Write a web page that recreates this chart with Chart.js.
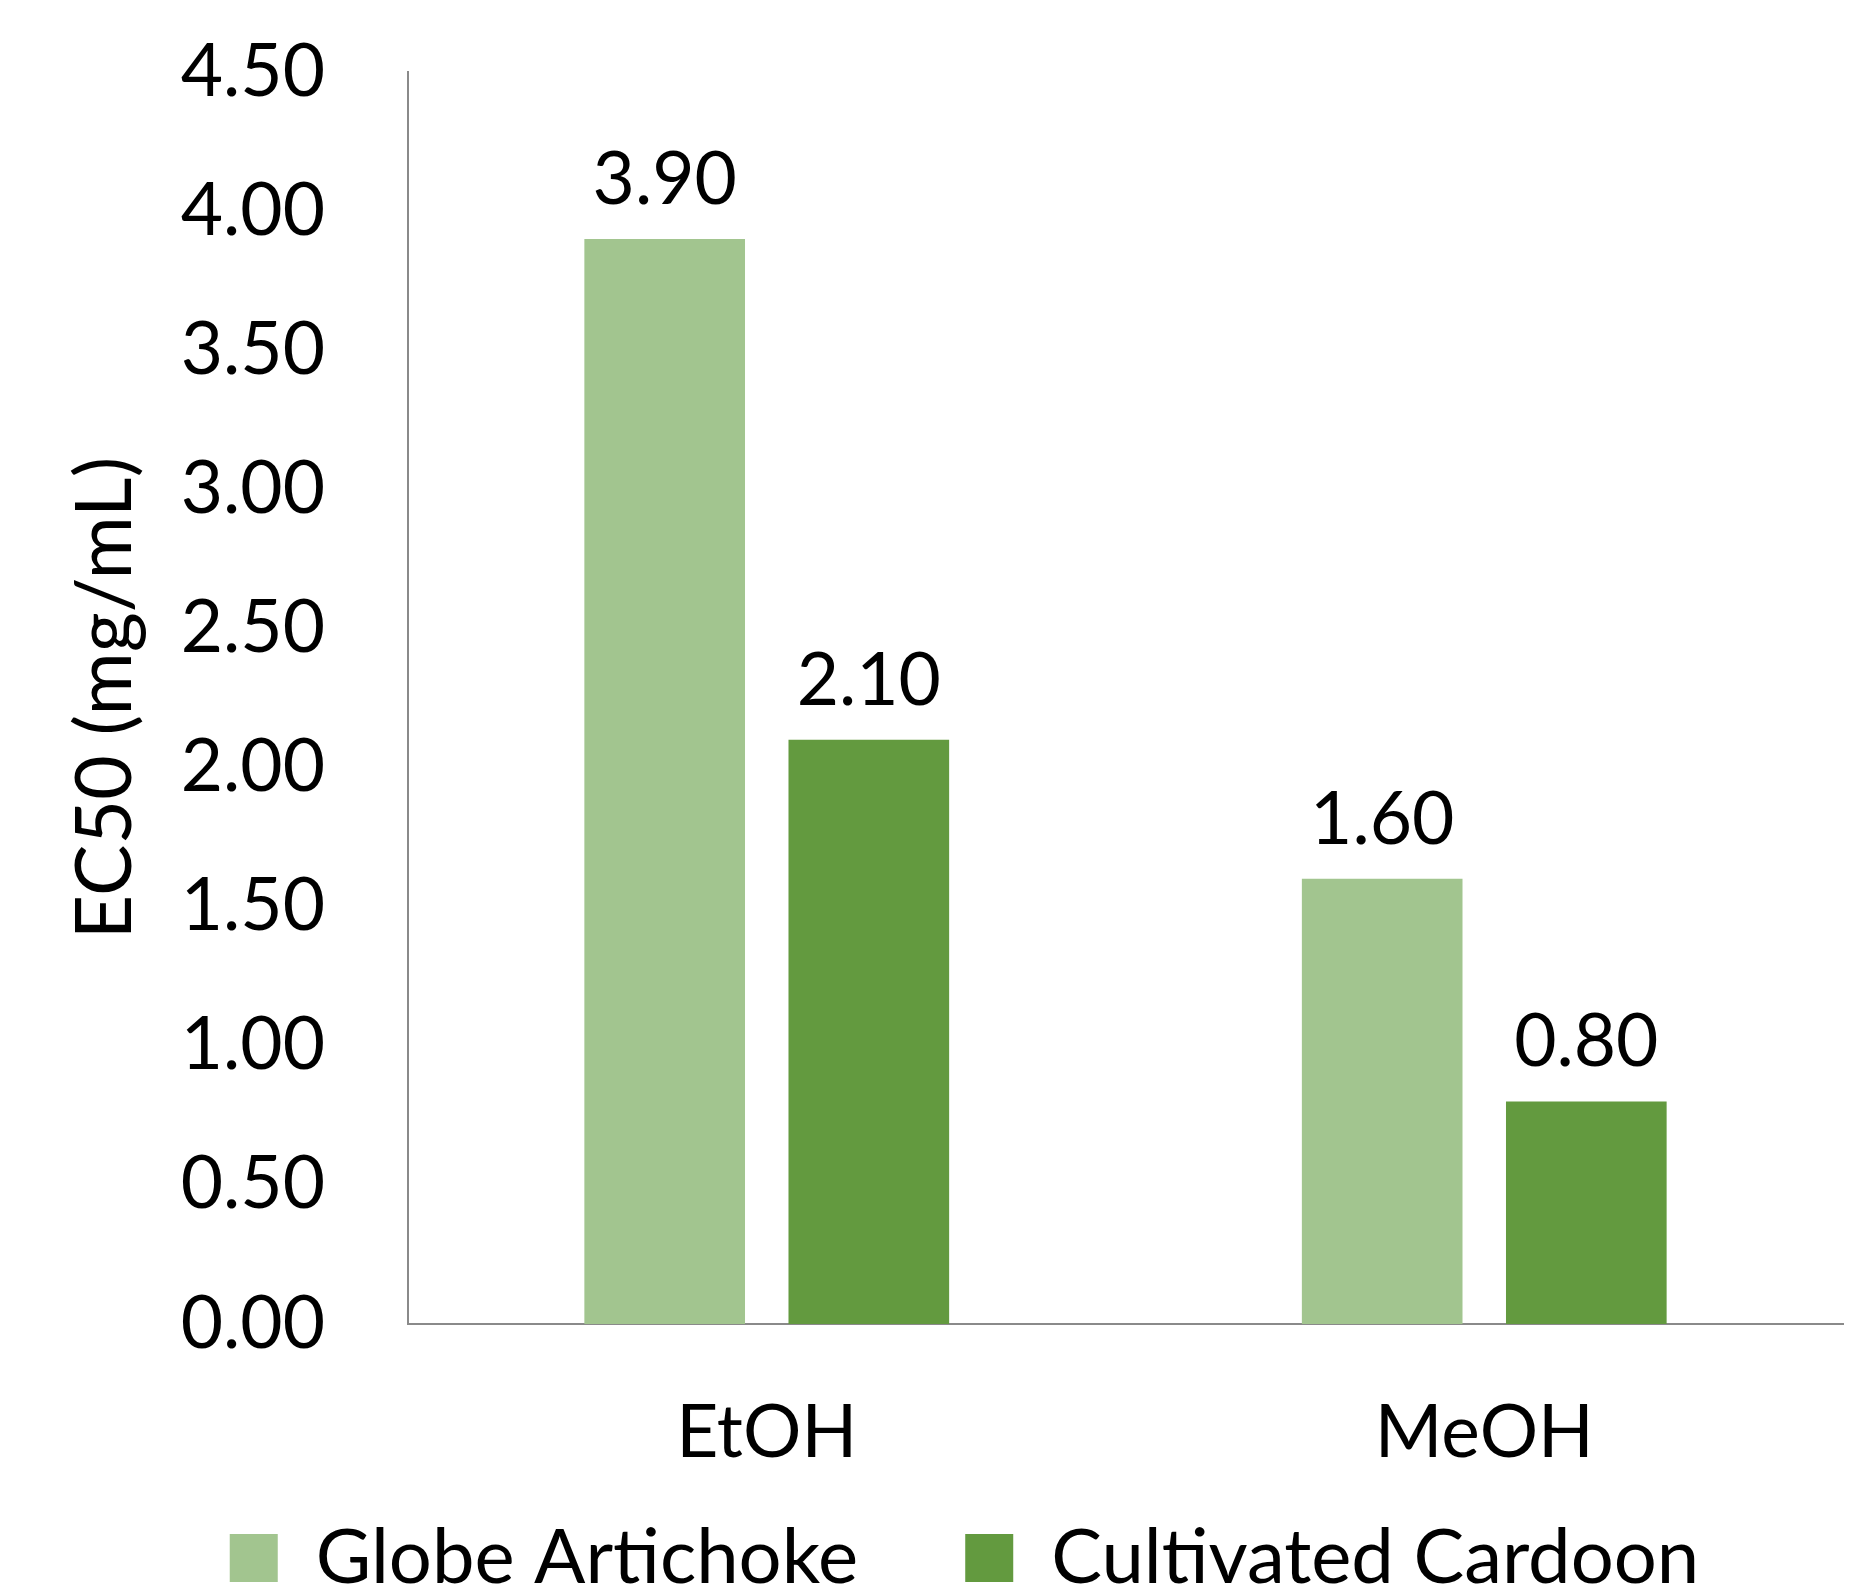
<!DOCTYPE html>
<html>
<head>
<meta charset="utf-8">
<title>EC50</title>
<script src="https://cdn.jsdelivr.net/npm/chart.js@4.4.1/dist/chart.umd.min.js"></script>
<style>
  html, body { margin: 0; padding: 0; background: #fff; overflow: hidden; }
  #wrap { position: relative; width: 1869px; height: 1590px; }
</style>
</head>
<body>
<div id="wrap"><canvas id="ec50Chart"></canvas></div>
<script>
// --- Data ---
const categories = ['EtOH', 'MeOH'];
const seriesNames = ['Globe Artichoke', 'Cultivated Cardoon'];
const globeArtichoke = [3.90, 1.60];
const cultivatedCardoon = [2.10, 0.80];
const yMin = 0;
const yMax = 4.5;
const yStep = 0.5;

const FONT = 'Lato, "Open Sans", sans-serif';
const FONT_SIZE = 73;
const LIGHT_GREEN = '#a2c58f';
const DARK_GREEN = '#639a3f';
const AXIS_GREY = '#8a8a8a';

// value labels sitting above each bar
const barValueLabels = {
  id: 'barValueLabels',
  afterDatasetsDraw(chart) {
    const ctx = chart.ctx;
    ctx.save();
    ctx.font = `${FONT_SIZE}px ${FONT}`;
    ctx.fillStyle = '#000';
    ctx.textAlign = 'center';
    ctx.textBaseline = 'alphabetic';
    chart.data.datasets.forEach((ds, i) => {
      chart.getDatasetMeta(i).data.forEach((bar, j) => {
        ctx.fillText(ds.data[j].toFixed(2), bar.x, bar.y - 35);
      });
    });
    ctx.restore();
  }
};

// the legend keeps wide item spacing, so stretch its box up towards the axis labels
const legendNudge = {
  id: 'legendNudge',
  afterLayout(chart) {
    const lg = chart.legend;
    if (!lg) return;
    lg.top -= 66;
    lg.left += 43; lg.right += 43;
  }
};

const ctx = document.getElementById('ec50Chart').getContext('2d');
new Chart(ctx, {
  type: 'bar',
  data: {
    labels: categories,
    datasets: [
      {
        label: seriesNames[0],
        data: globeArtichoke,
        backgroundColor: LIGHT_GREEN,
        borderWidth: 0
      },
      {
        label: seriesNames[1],
        data: cultivatedCardoon,
        backgroundColor: DARK_GREEN,
        borderWidth: 0
      }
    ]
  },
  options: {
    responsive: true,
    maintainAspectRatio: false,
    devicePixelRatio: 1,
    animation: false,
    categoryPercentage: 0.569,
    barPercentage: 0.787,
    layout: { padding: { top: 72, right: 26, bottom: 0, left: 0 } },
    plugins: {
      tooltip: { enabled: false },
      legend: {
        position: 'bottom',
        maxHeight: 111,
        labels: {
          boxWidth: 48,
          boxHeight: 48,
          padding: 107,
          color: '#000',
          font: { family: FONT, size: 76 }
        }
      }
    },
    scales: {
      x: {
        // hidden tick marks still push the labels down
        grid: { display: false, drawTicks: true, tickLength: 66 },
        border: { display: true, color: AXIS_GREY, width: 2 },
        ticks: {
          color: '#000',
          padding: 0,
          font: { family: FONT, size: FONT_SIZE }
        },
        afterFit(scale) { scale.height = 155; }
      },
      y: {
        min: yMin,
        max: yMax,
        grid: { display: false, drawTicks: true, tickLength: 83 },
        border: { display: true, color: AXIS_GREY, width: 2 },
        ticks: {
          stepSize: yStep,
          color: '#000',
          padding: 0,
          font: { family: FONT, size: FONT_SIZE },
          callback: (v) => Number(v).toFixed(2)
        },
        title: {
          display: true,
          text: 'EC50 (mg/mL)',
          color: '#000',
          padding: { top: 60, bottom: 0 },
          font: { family: FONT, size: 77 }
        },
        afterFit(scale) { scale.width = 408; }
      }
    }
  },
  plugins: [barValueLabels, legendNudge]
});
</script>
</body>
</html>
